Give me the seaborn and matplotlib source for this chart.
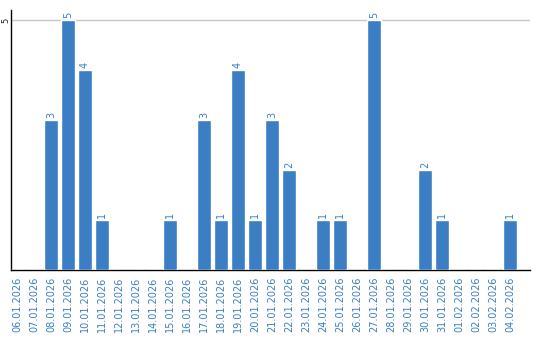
import matplotlib
matplotlib.use("Agg")
import matplotlib.pyplot as plt
import seaborn as sns
import pandas as pd

dates = ["06.01.2026", "07.01.2026", "08.01.2026", "09.01.2026", "10.01.2026",
         "11.01.2026", "12.01.2026", "13.01.2026", "14.01.2026", "15.01.2026",
         "16.01.2026", "17.01.2026", "18.01.2026", "19.01.2026", "20.01.2026",
         "21.01.2026", "22.01.2026", "23.01.2026", "24.01.2026", "25.01.2026",
         "26.01.2026", "27.01.2026", "28.01.2026", "29.01.2026", "30.01.2026",
         "31.01.2026", "01.02.2026", "02.02.2026", "03.02.2026", "04.02.2026"]
counts = [0, 0, 3, 5, 4, 1, 0, 0, 0, 1,
          0, 3, 1, 4, 1, 3, 2, 0, 1, 1,
          0, 5, 0, 0, 2, 1, 0, 0, 0, 1]
y_ticks = [5]

sns.set_style("white")
plt.rcParams['font.family'] = ['DejaVu Sans']

BLUE = "#3b7ec4"
df = pd.DataFrame({"date": dates, "count": counts})

fig = plt.figure(figsize=(5.4, 3.4), dpi=100)
ax = fig.add_axes([11/540, 70/340, 519/540, 260/340])
sns.barplot(data=df, x="date", y="count", color=BLUE, saturation=1,
            width=0.82, ax=ax, zorder=3)

ax.set_ylim(0, 5.2)
ax.set_xlim(-0.35, 30.18)
ax.set_yticks(y_ticks)
ax.set_yticklabels([str(t) for t in y_ticks], rotation=90, fontsize=6,
                   va="center", ha="right")
ax.yaxis.grid(True, color="#c8c8c8", linewidth=1, zorder=0)
ax.xaxis.grid(False)
ax.tick_params(axis="y", length=0, pad=0.5)
ax.tick_params(axis="x", length=0, pad=5, colors=BLUE, labelsize=7)
for lbl in ax.get_xticklabels():
    lbl.set_rotation(90)
ax.set_xlabel("")
ax.set_ylabel("")

for s in ["top", "right"]:
    ax.spines[s].set_visible(False)
for s in ["left", "bottom"]:
    ax.spines[s].set_color("black")
    ax.spines[s].set_linewidth(1)

for i, v in enumerate(counts):
    if v > 0:
        ax.text(i, v + 0.04, str(v), rotation=90, ha="center", va="bottom",
                fontsize=7, color=BLUE, zorder=4)

fig.savefig("out.png", dpi=100)
